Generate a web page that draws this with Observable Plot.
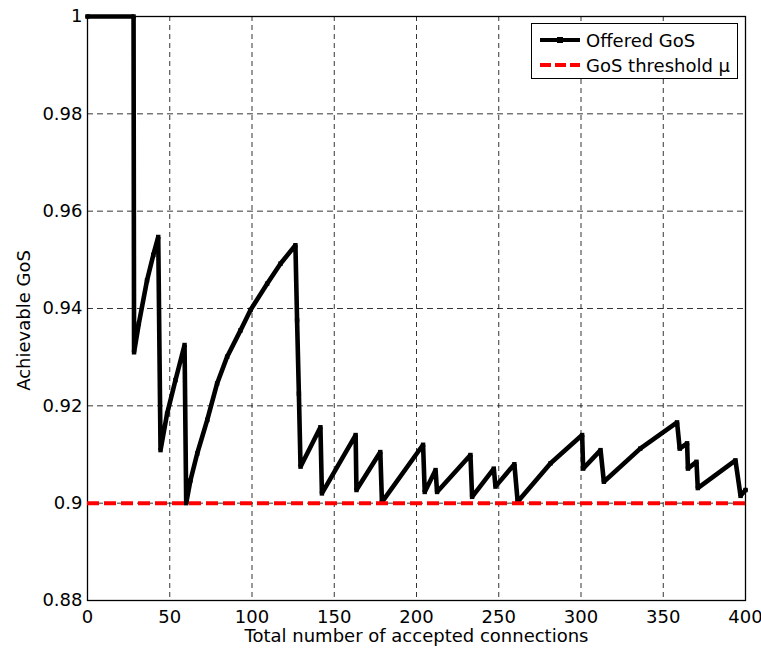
<!DOCTYPE html>
<html><head><meta charset="utf-8">
<script src="https://cdn.jsdelivr.net/npm/d3@7"></script>
<script src="https://cdn.jsdelivr.net/npm/@observablehq/plot@0.6"></script>
<style>
body{margin:0;background:#fff;}
#wrap{position:relative;width:761px;height:654px;font-family:"DejaVu Sans",sans-serif;}
#legend{position:absolute;left:531px;top:23px;width:207px;height:56px;border:1px solid #000;background:#fff;box-sizing:border-box;}
#legend .row{position:absolute;left:0;height:20px;display:flex;align-items:center;font-size:18px;color:#000;white-space:nowrap;}
#legend svg{margin-left:8px;margin-right:6px;}
</style></head><body>
<div id="wrap"><div id="legend"></div></div>
<script>
// Data
const connections = [0, 28, 28.3, 31.2, 36.2, 40, 43, 44.4, 48.4, 53.5, 59, 60,
  62.6, 66.7, 72.8, 78.8, 84.9, 93, 99.1, 109.2, 117.3, 126.4,
  127.4, 128.5, 129.5, 141.6, 142.5, 163, 163.5, 178, 179, 204, 205,
  211.6, 212.5, 232.8, 233.8, 247, 248, 259.5, 261.5, 281.5, 300.7, 301.3,
  311.9, 313.9, 336, 358.4, 360, 364.5, 365, 370.2, 371, 393.9, 397, 400];
const offeredGoS = [1, 1, 0.931, 0.9369, 0.9458, 0.951, 0.9547, 0.9109, 0.9184, 0.9253, 0.9325, 0.9,
  0.9047, 0.9102, 0.9171, 0.9246, 0.9301, 0.9355, 0.9397, 0.9451, 0.9492, 0.953,
  0.9376, 0.9225, 0.9075, 0.9156, 0.902, 0.914, 0.9027, 0.9105, 0.9002, 0.912, 0.9023,
  0.9068, 0.9023, 0.9099, 0.9013, 0.9071, 0.9034, 0.908, 0.9003, 0.9082, 0.914, 0.9071,
  0.9109, 0.9044, 0.9112, 0.9166, 0.9112, 0.9123, 0.9071, 0.9085, 0.9031, 0.9088, 0.9015, 0.9027];
const threshold = [0.9];
const xTicks = [0, 50, 100, 150, 200, 250, 300, 350, 400];
const yTicks = [0.88, 0.9, 0.92, 0.94, 0.96, 0.98, 1];
const yTickLabels = ["0.88", "0.9", "0.92", "0.94", "0.96", "0.98", "1"];
const seriesNames = ["Offered GoS", "GoS threshold \u03bc"];
const xLabel = "Total number of accepted connections";
const yLabel = "Achievable GoS";

const data = connections.map((c, i) => ({x: c, y: offeredGoS[i]}));

const chart = Plot.plot({
  width: 761, height: 654,
  marginLeft: 87, marginRight: 16, marginTop: 16, marginBottom: 54,
  x: {domain: [0, 400], label: null},
  y: {domain: [0.88, 1], label: null},
  style: {fontFamily: "DejaVu Sans", fontSize: "18px", color: "#000", background: "#fff"},
  marks: [
    Plot.gridX(xTicks.slice(1, -1), {stroke: "#000", strokeOpacity: 1, strokeWidth: 0.8, strokeDasharray: "5,4"}),
    Plot.gridY(yTicks.slice(1, -1), {stroke: "#000", strokeOpacity: 1, strokeWidth: 0.8, strokeDasharray: "6,4"}),
    Plot.frame({stroke: "#000", strokeWidth: 1.3}),
    Plot.axisX(xTicks, {tickSize: 0, tickPadding: 10, fontSize: 18, label: null}),
    Plot.axisY(yTicks, {tickSize: 0, tickPadding: 5, fontSize: 18, label: null,
      tickFormat: d => yTickLabels[yTicks.indexOf(d)]}),
    Plot.text([xLabel], {frameAnchor: "bottom", dy: 36, textAnchor: "middle", lineAnchor: "middle", fontSize: 18, text: d => d}),
    Plot.text([yLabel], {frameAnchor: "left", dx: -63, dy: 12, rotate: -90, textAnchor: "middle", lineAnchor: "middle", fontSize: 18, text: d => d}),
    Plot.line(data, {x: "x", y: "y", stroke: "#000", strokeWidth: 4.6, strokeLinejoin: "miter"}),
    Plot.dot(data, {x: "x", y: "y", symbol: "square", r: 2.5, fill: "#000"}),
    Plot.ruleY(threshold, {stroke: "#ff0000", strokeWidth: 4, strokeDasharray: "12,5"})
  ]
});
document.getElementById("wrap").prepend(chart);

// Legend
const legend = d3.select("#legend");
const r1 = legend.append("div").attr("class", "row").style("top", "6px");
const s1 = r1.append("svg").attr("width", 40).attr("height", 10);
s1.append("line").attr("x1", 0).attr("x2", 40).attr("y1", 5).attr("y2", 5).attr("stroke", "#000").attr("stroke-width", 4);
s1.append("rect").attr("x", 17).attr("y", 2).attr("width", 6).attr("height", 6).attr("fill", "#000");
r1.append("span").text(seriesNames[0]);
const r2 = legend.append("div").attr("class", "row").style("top", "31px");
const s2 = r2.append("svg").attr("width", 40).attr("height", 10);
s2.append("line").attr("x1", 0).attr("x2", 40).attr("y1", 5).attr("y2", 5).attr("stroke", "#ff0000").attr("stroke-width", 4).attr("stroke-dasharray", "11,4");
r2.append("span").text(seriesNames[1]);
</script>
</body></html>
